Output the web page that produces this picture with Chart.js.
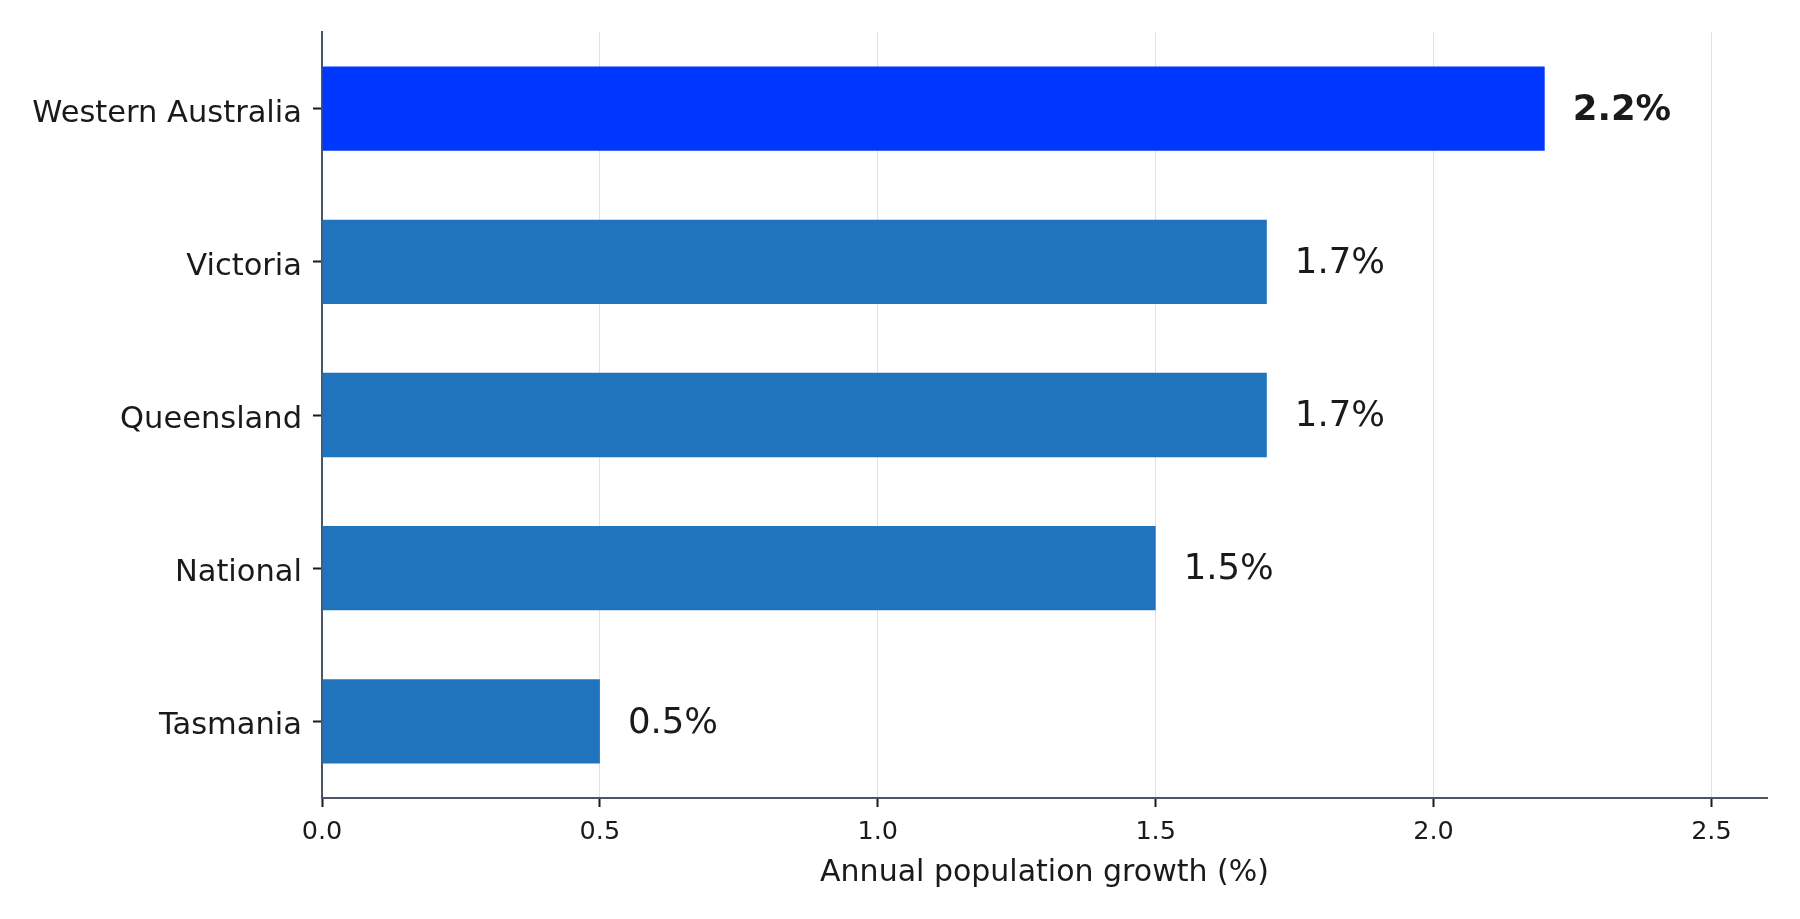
<!DOCTYPE html>
<html>
<head>
<meta charset="utf-8">
<script src="https://cdn.jsdelivr.net/npm/chart.js@4"></script>
<style>
  html, body { margin: 0; padding: 0; background: #fff; }
  #wrap { width: 1800px; height: 919px; }
</style>
</head>
<body>
<div id="wrap"><canvas id="chart"></canvas></div>
<script>
const regions = ['Western Australia', 'Victoria', 'Queensland', 'National', 'Tasmania']
const growth = [2.2, 1.7, 1.7, 1.5, 0.5]
const xTicks = [0, 0.5, 1.0, 1.5, 2.0, 2.5]
const highlight = 'Western Australia'

const textColor = '#1a1a1a'
const spineColor = '#4b5563'
const font = 'DejaVu Sans'

const valueLabels = {
  id: 'valueLabels',
  afterDatasetsDraw (chart) {
    const { ctx } = chart
    const meta = chart.getDatasetMeta(0)
    ctx.save()
    ctx.fillStyle = textColor
    ctx.textAlign = 'left'
    ctx.textBaseline = 'middle'
    meta.data.forEach((bar, i) => {
      const bold = regions[i] === highlight
      ctx.font = `${bold ? 'bold ' : ''}35.5px "${font}"`
      ctx.fillText(`${growth[i].toFixed(1)}%`, bar.x + 28, bar.y + 2)
    })
    ctx.restore()
  }
}

new Chart(document.getElementById('chart'), {
  type: 'bar',
  data: {
    labels: regions,
    datasets: [
      {
        data: growth,
        backgroundColor: (c) => regions[c.dataIndex] === highlight ? '#0037ff' : '#1f74bd',
        categoryPercentage: 1,
        barPercentage: 0.55
      }
    ]
  },
  options: {
    indexAxis: 'y',
    responsive: true,
    maintainAspectRatio: false,
    animation: false,
    devicePixelRatio: 1,
    layout: { padding: { top: 32, right: 33, left: 0, bottom: 0 } },
    plugins: {
      legend: { display: false },
      tooltip: { enabled: false }
    },
    scales: {
      x: {
        type: 'linear',
        min: 0,
        max: 2.6,
        afterBuildTicks: (scale) => { scale.ticks = xTicks.map((v) => ({ value: v })) },
        afterFit: (scale) => { scale.height = 121 },
        ticks: {
          color: textColor,
          font: { family: font, size: 25.5 },
          padding: 10,
          callback: (v) => Number(v).toFixed(1)
        },
        grid: {
          color: '#e2e2e2',
          lineWidth: 1,
          tickColor: textColor,
          tickLength: 9,
          tickWidth: 2
        },
        border: { color: spineColor, width: 2 },
        title: {
          display: true,
          text: 'Annual population growth (%)',
          color: textColor,
          font: { family: font, size: 30 },
          padding: { top: 0, bottom: 28 }
        }
      },
      y: {
        afterFit: (scale) => { scale.width = 322 },
        ticks: {
          color: textColor,
          font: { family: font, size: 30.5 },
          padding: 11,
          labelOffset: 5
        },
        grid: {
          offset: false,
          drawOnChartArea: false,
          tickColor: textColor,
          tickLength: 9,
          tickWidth: 2
        },
        border: { color: spineColor, width: 2 }
      }
    }
  },
  plugins: [valueLabels]
})
</script>
</body>
</html>
